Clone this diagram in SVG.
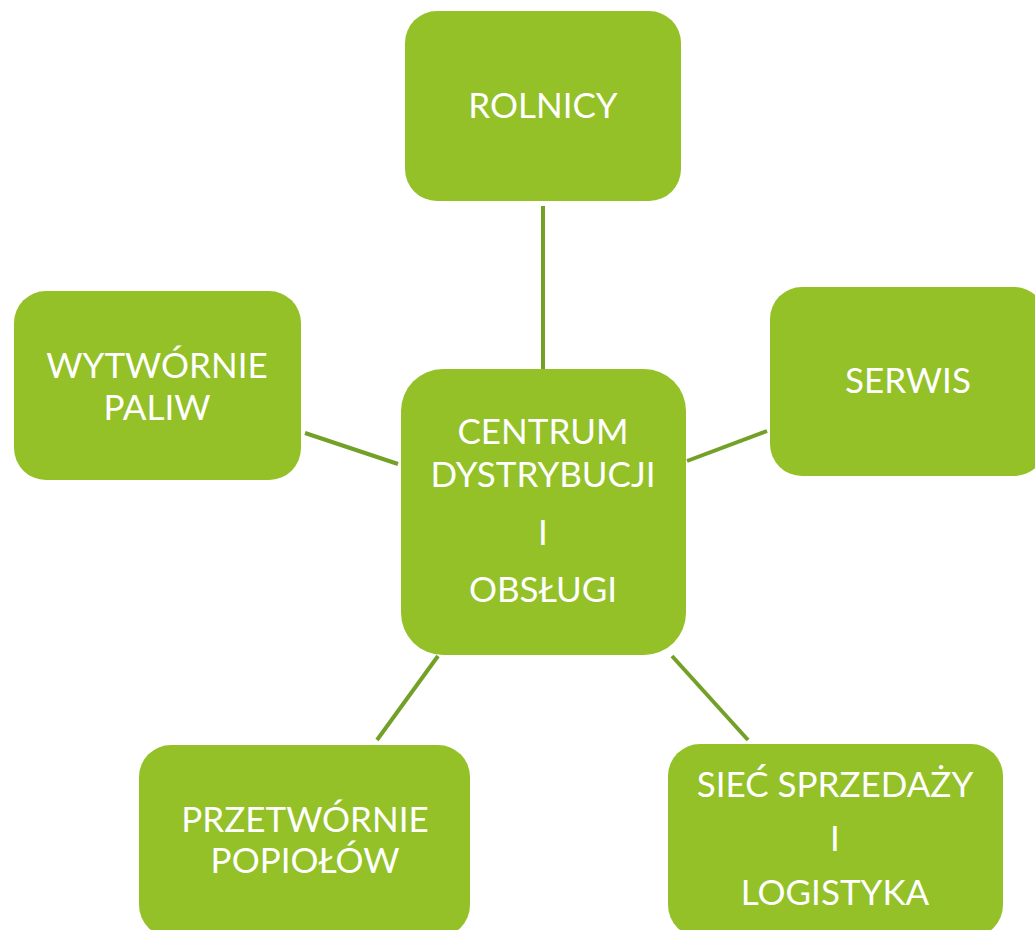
<svg xmlns="http://www.w3.org/2000/svg" width="1035" height="930" viewBox="0 0 1035 930">
<style>
.box{fill:#93c127;}
.t{font-family:Lato,"Open Sans","DejaVu Sans",sans-serif;fill:#ffffff;text-anchor:middle;font-size:35px;}
.c{stroke:#73a026;stroke-width:4;fill:none;}
</style>
<rect width="1035" height="930" fill="#ffffff"/>
<g id="connectors">
<line class="c" x1="543" y1="206" x2="543" y2="369"/>
<line class="c" x1="687" y1="461" x2="767" y2="431"/>
<line class="c" x1="305" y1="433" x2="398" y2="464"/>
<line class="c" x1="438" y1="656" x2="377" y2="740"/>
<line class="c" x1="672" y1="656" x2="748" y2="740"/>
</g>
<g id="rolnicy">
<rect class="box" x="405" y="11" width="276" height="190" rx="32"/>
<text class="t" x="543" y="118" font-size="37">ROLNICY</text>
</g>
<g id="centrum">
<rect class="box" x="401" y="369" width="285" height="286" rx="42"/>
<text class="t" x="543" y="444">CENTRUM</text>
<text class="t" x="543" y="487">DYSTRYBUCJI</text>
<text class="t" x="543" y="545">I</text>
<text class="t" x="543" y="602">OBSŁUGI</text>
</g>
<g id="serwis">
<rect class="box" x="770" y="287" width="276" height="189" rx="32"/>
<text class="t" x="908" y="393">SERWIS</text>
</g>
<g id="wytwornie">
<rect class="box" x="14" y="291" width="287" height="189" rx="32"/>
<text class="t" x="157" y="378">WYTWÓRNIE</text>
<text class="t" x="157" y="420">PALIW</text>
</g>
<g id="przetwornie">
<rect class="box" x="139" y="745" width="331" height="192" rx="32"/>
<text class="t" x="305" y="832">PRZETWÓRNIE</text>
<text class="t" x="305" y="873">POPIOŁÓW</text>
</g>
<g id="siec">
<rect class="box" x="668" y="744" width="335" height="193" rx="32"/>
<text class="t" x="835" y="797">SIEĆ SPRZEDAŻY</text>
<text class="t" x="835" y="851">I</text>
<text class="t" x="835" y="905">LOGISTYKA</text>
</g>
</svg>
